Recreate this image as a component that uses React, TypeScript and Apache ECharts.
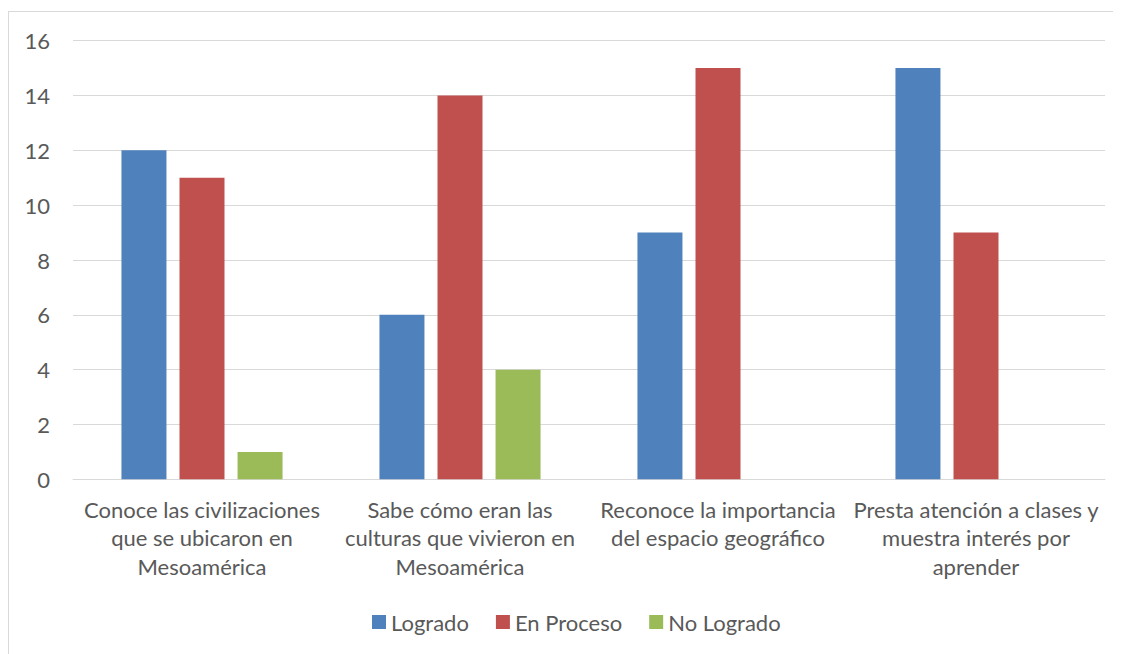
import React, { useEffect, useRef } from "react";
import * as echarts from "echarts";

const categories = [
  "Conoce las civilizaciones\nque se ubicaron en\nMesoamérica",
  "Sabe cómo eran las\nculturas que vivieron en\nMesoamérica",
  "Reconoce la importancia\ndel espacio geográfico",
  "Presta atención a clases y\nmuestra interés por\naprender",
];
const logrado = [12, 6, 9, 15];
const enProceso = [11, 14, 15, 9];
const noLogrado = [1, 4, 0, 0];
const seriesNames = ["Logrado", "En Proceso", "No Logrado"];
const colors = ["#4F81BD", "#C0504D", "#9BBB59"];

const FONT = "Lato, 'Open Sans', sans-serif";
const TEXT = "#595959";

export default function App() {
  const ref = useRef<HTMLDivElement>(null);
  useEffect(() => {
    document.documentElement.style.overflow = "hidden";
    document.body.style.overflow = "hidden";
    if (!ref.current) return;
    const chart = echarts.init(ref.current, undefined, { renderer: "svg" });
    const dataSets = [logrado, enProceso, noLogrado];
    chart.setOption({
      animation: false,
      textStyle: { fontFamily: FONT },
      grid: { left: 64, right: 104, top: 28.7, bottom: 232.7, containLabel: false },
      legend: {
        left: 358,
        top: 594,
        itemWidth: 14,
        itemHeight: 14,
        itemGap: 27,
        icon: "rect",
        textStyle: { color: TEXT, fontSize: 22, fontFamily: FONT },
        data: seriesNames,
      },
      xAxis: {
        type: "category",
        data: categories,
        axisLine: { lineStyle: { color: "#d9d9d9" } },
        axisTick: { show: false },
        axisLabel: {
          color: TEXT,
          fontSize: 22,
          lineHeight: 28.3,
          margin: 16,
          interval: 0,
          fontFamily: FONT,
        },
      },
      yAxis: {
        type: "value",
        min: 0,
        max: 16,
        interval: 2,
        axisLine: { show: false },
        axisTick: { show: false },
        splitLine: { lineStyle: { color: "#d9d9d9", width: 1 } },
        axisLabel: { color: TEXT, fontSize: 22, margin: 23, fontFamily: FONT },
      },
      series: seriesNames.map((name, i) => ({
        name,
        type: "bar",
        data: dataSets[i],
        barWidth: 45,
        barGap: "29%",
        itemStyle: { color: colors[i] },
      })),
    });
    return () => chart.dispose();
  }, []);
  return (
    <div
      style={{
        marginTop: 3,
        width: 1112,
        height: 642,
        overflow: "hidden",
        borderTop: "1px solid #d9d9d9",
        borderLeft: "1px solid #d9d9d9",
      }}
    >
      <div ref={ref} style={{ width: 1200, height: 700 }} />
    </div>
  );
}
